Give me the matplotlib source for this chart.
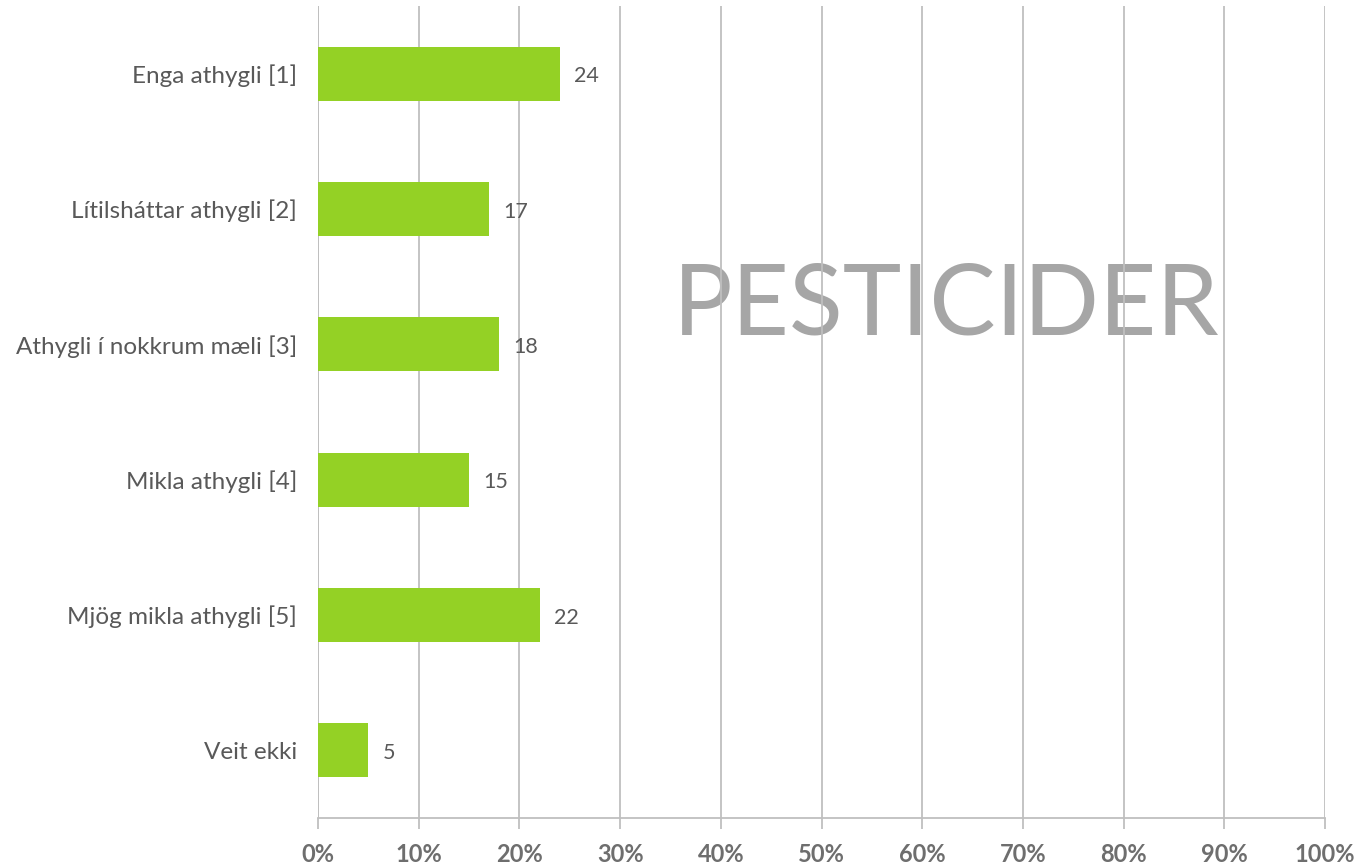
import matplotlib
matplotlib.use("Agg")
import matplotlib.pyplot as plt
from matplotlib.ticker import FixedLocator

plt.rcParams['font.family'] = ['Lato', 'DejaVu Sans']

categories = [
    "Enga athygli [1]",
    "Lítilsháttar athygli [2]",
    "Athygli í nokkrum mæli [3]",
    "Mikla athygli [4]",
    "Mjög mikla athygli [5]",
    "Veit ekki",
]
values = [24, 17, 18, 15, 22, 5]
x_ticks = [0, 10, 20, 30, 40, 50, 60, 70, 80, 90, 100]
x_tick_labels = [f"{t}%" for t in x_ticks]
watermark = "PESTICIDER"

fig = plt.figure(figsize=(13.7, 8.66), dpi=100)
ax = fig.add_axes([318 / 1370, 48 / 866, (1325 - 318) / 1370, (818 - 6) / 866])

y = list(range(len(categories)))
ax.barh(y, values, height=0.4, color="#94D125", zorder=3)
for yi, v in zip(y, values):
    ax.text(v + 1.4, yi + 0.02, f"{v}", va="center", ha="left",
            fontsize=15.5, color="#595959", zorder=4)

ax.set_xlim(0, 100)
ax.set_ylim(len(categories) - 0.5, -0.5)
ax.set_yticks(y)
ax.set_yticklabels(categories, fontsize=17.5, color="#595959")
ax.tick_params(axis="y", length=0, pad=15)

ax.xaxis.set_major_locator(FixedLocator(x_ticks))
ax.set_xticklabels(x_tick_labels, fontsize=17, fontweight="bold", color="#6E6E6E")
ax.tick_params(axis="x", direction="out", length=8, width=1.3, color="#BFBFBF", pad=10)

ax.grid(axis="x", color="#BFBFBF", linewidth=1.3, zorder=2)
ax.set_axisbelow(False)
for side in ("top", "right", "left"):
    ax.spines[side].set_visible(False)
ax.spines["bottom"].set_color("#BFBFBF")
ax.spines["bottom"].set_linewidth(1.3)
ax.axvline(0, color="#BFBFBF", linewidth=1.3, zorder=2)

ax.text(62.4, 1.93, watermark, ha="center", va="baseline",
        fontsize=71.5, color="#A6A6A6", zorder=1)

fig.savefig("out.png", dpi=100, facecolor="white")
